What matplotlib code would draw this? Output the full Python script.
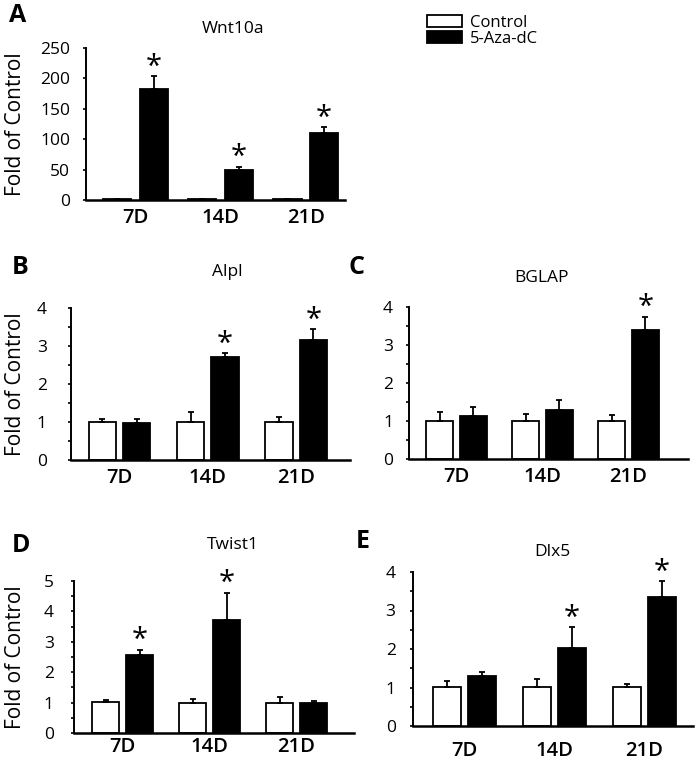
import numpy as np
import matplotlib
matplotlib.use("Agg")
import matplotlib.pyplot as plt
from matplotlib.patches import Patch

plt.rcParams['font.family'] = ['Open Sans', 'DejaVu Sans']

days = ["7D", "14D", "21D"]

# panel A - Wnt10a
wnt_ctrl = [1, 1, 1]
wnt_ctrl_err = [0.5, 0.5, 0.5]
wnt_aza = [183, 49, 110]
wnt_aza_err = [21, 6, 10]

# panel B - Alpl
alpl_ctrl = [1.01, 1.0, 1.0]
alpl_ctrl_err = [0.07, 0.26, 0.14]
alpl_aza = [0.98, 2.71, 3.16]
alpl_aza_err = [0.10, 0.10, 0.29]

# panel C - BGLAP
bglap_ctrl = [1.0, 1.0, 1.0]
bglap_ctrl_err = [0.24, 0.18, 0.16]
bglap_aza = [1.14, 1.29, 3.39]
bglap_aza_err = [0.22, 0.25, 0.36]

# panel D - Twist1
twist_ctrl = [1.02, 1.0, 1.0]
twist_ctrl_err = [0.08, 0.12, 0.18]
twist_aza = [2.58, 3.71, 1.0]
twist_aza_err = [0.16, 0.90, 0.05]

# panel E - Dlx5
dlx_ctrl = [1.02, 1.02, 1.02]
dlx_ctrl_err = [0.15, 0.21, 0.08]
dlx_aza = [1.30, 2.03, 3.36]
dlx_aza_err = [0.11, 0.53, 0.40]

sig_A = [True, True, True]
sig_B = [False, True, True]
sig_C = [False, False, True]
sig_D = [True, True, False]
sig_E = [False, True, True]

W, H = 697, 761
fig = plt.figure(figsize=(W / 100, H / 100), dpi=100)


def px_axes(left, right, top, bottom):
    return fig.add_axes([left / W, 1 - bottom / H, (right - left) / W, (bottom - top) / H])


def panel(box, ctrl, ctrl_err, aza, aza_err, sig, title, letter, ymax, yminor,
          xlim, width, off, title_xy, letter_xy, ylabel, ypad, xpad):
    ax = px_axes(*box)
    x = np.arange(len(days))
    ax.bar(x - off, ctrl, width, color="white", edgecolor="black", linewidth=1.3,
           yerr=[np.zeros(3), ctrl_err], error_kw=dict(ecolor="black", elinewidth=1.3, capsize=2.5, capthick=1.3), zorder=2)
    ax.bar(x + off, aza, width, color="black", edgecolor="black", linewidth=1.3,
           yerr=[np.zeros(3), aza_err], error_kw=dict(ecolor="black", elinewidth=1.3, capsize=2.5, capthick=1.3), zorder=2)
    for i in range(3):
        if sig[i]:
            ax.annotate("*", (x[i] + off, aza[i] + aza_err[i]), xytext=(0, -4),
                        textcoords="offset points", ha="center", va="bottom", fontsize=21)
    ax.set_xlim(*xlim)
    ax.set_ylim(0, ymax)
    ticks = np.arange(0, ymax + yminor / 2, yminor)
    ax.set_yticks(ticks)
    step = 50 if ymax > 10 else 1
    ax.set_yticklabels([f"{t:g}" if abs(t / step - round(t / step)) < 1e-6 else "" for t in ticks])
    ax.set_xticks(x)
    ax.set_xticklabels(days, fontsize=14.5, fontweight="semibold")
    ax.tick_params(axis="x", length=0, pad=xpad)
    ax.tick_params(axis="y", length=2.5, width=1.2, pad=ypad, labelsize=12.5)
    for s in ["top", "right"]:
        ax.spines[s].set_visible(False)
    ax.spines["left"].set_linewidth(1.4)
    ax.spines["bottom"].set_linewidth(1.8)
    fig.text(title_xy[0] / W, 1 - title_xy[1] / H, title, ha="center", va="center", fontsize=12.5)
    fig.text(letter_xy[0] / W, 1 - letter_xy[1] / H, letter, ha="left", va="center",
             fontsize=18, fontweight="bold")
    if ylabel:
        cy = (box[2] + box[3]) / 2
        fig.text(16 / W, 1 - cy / H, "Fold of Control", rotation=90, ha="center", va="center", fontsize=15)
    return ax


panel((86, 345, 48, 200), wnt_ctrl, wnt_ctrl_err, wnt_aza, wnt_aza_err, sig_A, "Wnt10a", "A",
      250, 50, (-0.58, 2.46), 0.33, 0.215, (233, 29), (9, 15), True, 9, 6)
panel((71, 350, 308, 460), alpl_ctrl, alpl_ctrl_err, alpl_aza, alpl_aza_err, sig_B, "Alpl", "B",
      4, 0.5, (-0.55, 2.61), 0.31, 0.195, (227, 272), (12, 267), True, 15, 6)
panel((409, 688, 307, 459), bglap_ctrl, bglap_ctrl_err, bglap_aza, bglap_aza_err, sig_C, "BGLAP", "C",
      4, 0.5, (-0.55, 2.69), 0.31, 0.195, (542, 278), (349, 268), False, 9, 6)
panel((74, 354, 581, 733), twist_ctrl, twist_ctrl_err, twist_aza, twist_aza_err, sig_D, "Twist1", "D",
      5, 0.5, (-0.56, 2.66), 0.31, 0.195, (233, 545), (12, 545), True, 12, 3)
panel((413, 693, 572, 726), dlx_ctrl, dlx_ctrl_err, dlx_aza, dlx_aza_err, sig_E, "Dlx5", "E",
      4, 0.5, (-0.57, 2.54), 0.31, 0.195, (552, 552), (356, 542), False, 10, 11)

handles = [Patch(facecolor="white", edgecolor="black", linewidth=1.3, label="Control"),
           Patch(facecolor="black", edgecolor="black", linewidth=1.3, label="5-Aza-dC")]
fig.legend(handles=handles, loc="upper left", bbox_to_anchor=(427 / W, 1 - 15 / H), frameon=False,
           fontsize=12, handlelength=2.1, handleheight=0.7, labelspacing=0.0, handletextpad=0.5,
           borderpad=0, borderaxespad=0)

fig.savefig("out.png", dpi=100)
